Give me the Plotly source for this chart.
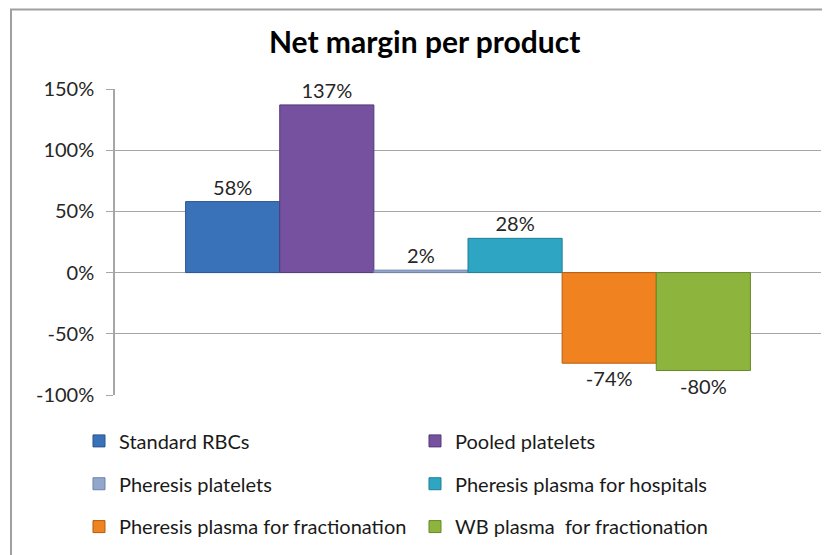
import plotly.graph_objects as go

products = ["Standard RBCs", "Pooled platelets", "Pheresis platelets",
            "Pheresis plasma for hospitals", "Pheresis plasma for fractionation",
            "WB plasma  for fractionation"]
margins = [0.58, 1.37, 0.02, 0.28, -0.74, -0.80]
value_labels = ["58%", "137%", "2%", "28%", "-74%", "-80%"]
tick_values = [-1.0, -0.5, 0.0, 0.5, 1.0, 1.5]
tick_labels = ["-100%", "-50%", "0%", "50%", "100%", "150%"]
colors = ["#3a72ba", "#7551a0", "#93a6cc", "#2ea5c2", "#f0821f", "#8db53e"]
edges = ["#2a5590", "#553878", "#6f82a8", "#1f7f97", "#b65d10", "#67872a"]
legend_rows = ["legend", "legend", "legend2", "legend2", "legend3", "legend3"]

FONT = "Lato"
fig = go.Figure()
for name, v, lab, c, e, lg in zip(products, margins, value_labels, colors, edges, legend_rows):
    fig.add_trace(go.Bar(
        x=["Net margin"], y=[v], name=name,
        marker=dict(color=c, line=dict(color=e, width=1)),
        text=[lab], textposition="outside", cliponaxis=False,
        textfont=dict(family=FONT, size=20, color="#262626"),
        legend=lg,
    ))

leg_common = dict(orientation="h", xanchor="left", yanchor="middle",
                  bgcolor="rgba(0,0,0,0)", entrywidth=291,
                  font=dict(family=FONT, size=20, color="#1a1a1a"),
                  itemclick=False, itemdoubleclick=False)

fig.update_layout(
    width=830, height=555,
    margin=dict(l=107, r=17, t=81, b=168),
    paper_bgcolor="white", plot_bgcolor="white",
    title=dict(text="<b>Net margin per product</b>", x=0.502, xanchor="center",
               y=0.938, yanchor="middle",
               font=dict(family=FONT, size=30, color="#000000")),
    barmode="group", bargap=0.2, bargroupgap=0,
    showlegend=True,
    legend=dict(x=-0.051, y=-0.15, **leg_common),
    legend2=dict(x=-0.051, y=-0.29, **leg_common),
    legend3=dict(x=-0.051, y=-0.43, **leg_common),
    xaxis=dict(showticklabels=False, showline=False, showgrid=False, ticks=""),
    yaxis=dict(range=[-1, 1.5], tickvals=tick_values, ticktext=tick_labels,
               showgrid=True, gridcolor="#a6a6a6", gridwidth=1,
               zeroline=True, zerolinecolor="#a6a6a6", zerolinewidth=1,
               showline=True, linecolor="#a6a6a6", linewidth=1.5,
               ticks="outside", ticklen=7, tickcolor="#a6a6a6",
               ticklabelstandoff=8,
               tickfont=dict(family=FONT, size=20, color="#262626")),
    shapes=[dict(type="rect", xref="paper", yref="paper",
                 x0=-0.1473, x1=1.2, y0=-0.7, y1=1.2598,
                 line=dict(color="#a0a0a0", width=2), layer="below")],
)
fig.write_html("out.html")
